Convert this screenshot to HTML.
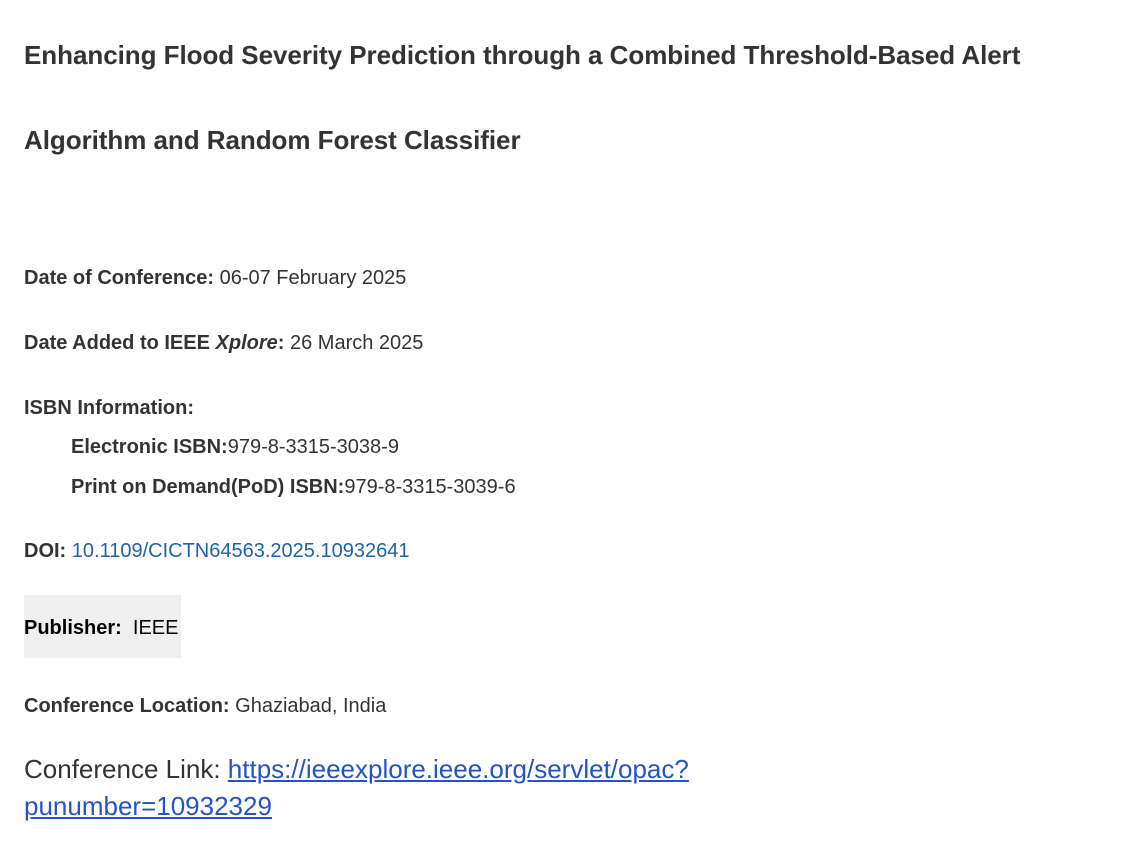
<!DOCTYPE html>
<html><head><meta charset="utf-8"><style>
body{margin:0;width:1122px;height:848px;background:#fff;font-family:"Liberation Sans",Arial,sans-serif;color:#333;position:relative;overflow:hidden}
.a{position:absolute;left:24px;white-space:nowrap;line-height:30px}
.t{font-size:26px;font-weight:bold;letter-spacing:-0.05px}
.s{font-size:20px}
b{font-weight:bold}
a{color:#1f62a8;text-decoration:none}
.l{font-size:26px;color:#333}
.l a{color:#2253c9;text-decoration:underline}
</style></head><body>
<div class="a t" style="top:40px">Enhancing Flood Severity Prediction through a Combined Threshold-Based Alert</div>
<div class="a t" style="top:125px">Algorithm and Random Forest Classifier</div>
<div class="a s" style="top:263px"><b>Date of Conference:</b> 06-07 February 2025</div>
<div class="a s" style="top:328px"><b>Date Added to IEEE <i>Xplore</i>:</b> 26 March 2025</div>
<div class="a s" style="top:393px"><b>ISBN Information:</b></div>
<div class="a s" style="top:432px;left:71px"><b>Electronic ISBN:</b>979-8-3315-3038-9</div>
<div class="a s" style="top:472px;left:71px"><b>Print on Demand(PoD) ISBN:</b>979-8-3315-3039-6</div>
<div class="a s" style="top:536px"><b>DOI:</b> <a>10.1109/CICTN64563.2025.10932641</a></div>
<div style="position:absolute;left:24px;top:595px;width:157px;height:63px;background:#efefef"></div>
<div class="a s" style="top:613px;color:#000"><b>Publisher:</b>&nbsp; IEEE</div>
<div class="a s" style="top:691px"><b>Conference Location:</b> Ghaziabad, India</div>
<div class="a l" style="top:751px;line-height:37px">Conference Link: <a>https://ieeexplore.ieee.org/servlet/opac?<br>punumber=10932329</a></div>
</body></html>
